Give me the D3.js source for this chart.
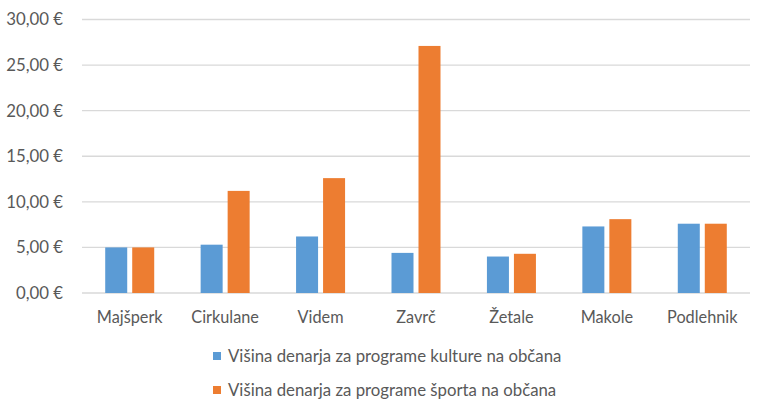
<!DOCTYPE html>
<html>
<head>
<meta charset="utf-8">
<script src="https://cdn.jsdelivr.net/npm/d3@7"></script>
<style>
  body { margin: 0; background: #fff; }
  text { font-family: Lato, "Open Sans", sans-serif; fill: #595959; }
</style>
</head>
<body>
<svg id="chart" width="768" height="414"></svg>
<script>
const categories = ['Majšperk', 'Cirkulane', 'Videm', 'Zavrč', 'Žetale', 'Makole', 'Podlehnik'];
const kultura = [5.0, 5.3, 6.2, 4.4, 4.0, 7.3, 7.6];
const sport = [5.0, 11.2, 12.6, 27.1, 4.3, 8.1, 7.6];
const seriesNames = ['Višina denarja za programe kulture na občana', 'Višina denarja za programe športa na občana'];
const yTicks = [0, 5, 10, 15, 20, 25, 30];
const colors = ['#5B9BD5', '#ED7D31'];

const svg = d3.select('#chart');
const margin = { top: 19.5, left: 82, right: 18 };
const plotW = 768 - margin.left - margin.right;
const plotH = 293 - margin.top;

const g = svg.append('g').attr('transform', `translate(${margin.left},${margin.top})`);

const x = d3.scaleBand().domain(categories).range([0, plotW]).paddingInner(0).paddingOuter(0);
const y = d3.scaleLinear().domain([0, 30]).range([plotH, 0]);

// gridlines
g.selectAll('.grid')
  .data(yTicks)
  .join('line')
  .attr('x1', 0).attr('x2', plotW)
  .attr('y1', d => y(d)).attr('y2', d => y(d))
  .attr('stroke', '#d9d9d9').attr('stroke-width', 1.3);

// y labels
const fmt = d => d.toFixed(2).replace('.', ',') + ' €';
g.selectAll('.ylab')
  .data(yTicks)
  .join('text')
  .attr('x', -19)
  .attr('y', d => y(d))
  .attr('dy', '0.35em')
  .attr('text-anchor', 'end')
  .attr('font-size', 16.8)
  .text(fmt);

// bars
const barW = 22, gap = 5;
const data = categories.map((c, i) => ({ c, vals: [kultura[i], sport[i]] }));
const groups = g.selectAll('.grp')
  .data(data)
  .join('g')
  .attr('transform', d => `translate(${x(d.c) + x.bandwidth() / 2},0)`);

groups.selectAll('rect')
  .data(d => d.vals.map((v, j) => ({ v, j })))
  .join('rect')
  .attr('x', d => d.j === 0 ? -(barW + gap / 2) : gap / 2)
  .attr('width', barW)
  .attr('y', d => y(d.v))
  .attr('height', d => plotH - y(d.v))
  .attr('fill', d => colors[d.j]);

// x labels
g.selectAll('.xlab')
  .data(categories)
  .join('text')
  .attr('x', d => x(d) + x.bandwidth() / 2)
  .attr('y', plotH + 24)
  .attr('dy', '0.35em')
  .attr('text-anchor', 'middle')
  .attr('font-size', 16.3)
  .text(d => d);

// legend
const legend = svg.append('g').attr('transform', 'translate(213,0)');
const rows = legend.selectAll('g')
  .data(seriesNames)
  .join('g')
  .attr('transform', (d, i) => `translate(0,${356 + i * 34})`);
rows.append('rect')
  .attr('x', 0).attr('y', -4).attr('width', 8).attr('height', 8)
  .attr('fill', (d, i) => colors[i]);
rows.append('text')
  .attr('x', 15)
  .attr('dy', '0.35em')
  .attr('font-size', 16.8)
  .text(d => d);
</script>
</body>
</html>
